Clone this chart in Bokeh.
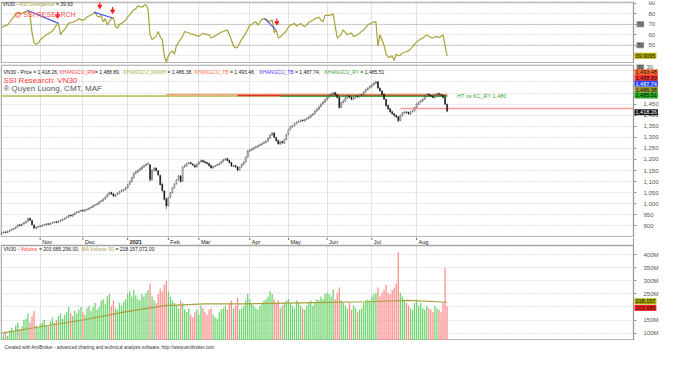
from bokeh.plotting import figure
from bokeh.models import (Range1d, LinearAxis, FixedTicker, Label, Grid,
                          NumeralTickFormatter, ColumnDataSource)
from bokeh.layouts import column
from bokeh.embed import file_html
from bokeh.resources import INLINE
from bokeh.core.properties import value

FONT = "Liberation Sans"

# ---------------- data ----------------
close = [868, 872, 870, 876, 880, 885, 889, 895, 904, 902,
         908, 915, 920, 933, 925, 905, 890, 893, 897, 900,
         903, 905, 909, 907, 912, 915, 918, 916, 922, 926,
         930, 935, 940, 948, 945, 952, 958, 962, 966, 970,
         968, 972, 976, 980, 985, 992, 995, 1000, 1008, 1014,
         1021, 1030, 1042, 1050, 1044, 1035, 1040, 1048, 1055, 1060,
         1064, 1072, 1086, 1100, 1118, 1137, 1145, 1150, 1158, 1166,
         1172, 1178, 1181, 1108, 1152, 1160, 1150, 1130, 1086, 1060,
         1020, 990, 1028, 1050, 1072, 1090, 1108, 1125, 1100, 1166,
         1172, 1181, 1185, 1181, 1175, 1166, 1178, 1188, 1195, 1190,
         1185, 1181, 1172, 1162, 1168, 1172, 1178, 1181, 1190, 1198,
         1203, 1195, 1185, 1170, 1172, 1166, 1152, 1165, 1178, 1188,
         1210, 1239, 1242, 1248, 1253, 1258, 1262, 1268, 1272, 1278,
         1283, 1295, 1310, 1319, 1300, 1285, 1271, 1280, 1275, 1290,
         1312, 1335, 1348, 1352, 1363, 1368, 1372, 1377, 1375, 1380,
         1385, 1392, 1400, 1406, 1418, 1428, 1438, 1450, 1460, 1470,
         1479, 1490, 1495, 1501, 1492, 1480, 1435, 1457, 1465, 1478,
         1486, 1480, 1472, 1478, 1486, 1483, 1490, 1494, 1505, 1516,
         1522, 1530, 1537, 1545, 1550, 1523, 1510, 1494, 1472, 1443,
         1428, 1415, 1406, 1398, 1392, 1375, 1399, 1410, 1414, 1412,
         1406, 1415, 1421, 1435, 1450, 1458, 1465, 1472, 1485, 1494,
         1490, 1486, 1480, 1492, 1497, 1494, 1491, 1480, 1450, 1418.26]
open_ = [864, 868, 873, 870, 876, 881, 884, 890, 896, 905,
         901, 909, 914, 921, 934, 924, 904, 889, 894, 896,
         899, 904, 904, 910, 906, 913, 914, 919, 915, 921,
         925, 930, 936, 940, 949, 944, 951, 959, 961, 967,
         971, 967, 973, 975, 981, 984, 993, 996, 999, 1009,
         1013, 1022, 1031, 1041, 1051, 1045, 1034, 1041, 1047, 1056,
         1059, 1065, 1073, 1088, 1101, 1119, 1138, 1144, 1151, 1157,
         1167, 1173, 1179, 1176, 1110, 1151, 1161, 1149, 1128, 1088,
         1058, 1022, 992, 1030, 1051, 1073, 1091, 1109, 1126, 1102,
         1167, 1173, 1182, 1186, 1180, 1174, 1167, 1179, 1189, 1196,
         1191, 1186, 1182, 1173, 1163, 1169, 1173, 1177, 1182, 1191,
         1199, 1204, 1196, 1186, 1169, 1173, 1167, 1153, 1166, 1177,
         1189, 1211, 1238, 1243, 1247, 1254, 1257, 1263, 1267, 1273,
         1277, 1284, 1296, 1311, 1320, 1299, 1286, 1270, 1281, 1274,
         1291, 1313, 1336, 1347, 1353, 1362, 1369, 1371, 1378, 1374,
         1381, 1386, 1391, 1401, 1407, 1419, 1427, 1439, 1451, 1459,
         1471, 1480, 1491, 1494, 1502, 1493, 1481, 1436, 1458, 1464,
         1477, 1487, 1481, 1471, 1479, 1487, 1482, 1491, 1495, 1506,
         1515, 1523, 1529, 1538, 1544, 1551, 1522, 1509, 1495, 1471,
         1444, 1429, 1416, 1407, 1399, 1393, 1376, 1398, 1409, 1415,
         1413, 1405, 1416, 1420, 1436, 1449, 1459, 1464, 1473, 1484,
         1495, 1489, 1487, 1479, 1491, 1498, 1493, 1490, 1481, 1449]
high = [871, 875, 876, 879, 883, 888, 892, 898, 907, 908,
        911, 918, 924, 938, 937, 927, 908, 897, 900, 903,
        906, 908, 912, 912, 915, 918, 921, 921, 925, 929,
        933, 938, 944, 951, 952, 955, 961, 966, 969, 973,
        975, 975, 979, 984, 988, 995, 999, 1004, 1011, 1017,
        1025, 1034, 1046, 1054, 1055, 1048, 1044, 1052, 1059, 1064,
        1068, 1076, 1090, 1105, 1122, 1141, 1150, 1156, 1163, 1171,
        1177, 1183, 1188, 1180, 1156, 1166, 1165, 1152, 1132, 1095,
        1062, 1030, 1032, 1054, 1076, 1094, 1112, 1130, 1128, 1170,
        1178, 1186, 1190, 1190, 1184, 1178, 1182, 1192, 1199, 1200,
        1194, 1190, 1185, 1176, 1171, 1175, 1181, 1185, 1194, 1202,
        1208, 1208, 1199, 1189, 1176, 1177, 1170, 1168, 1181, 1192,
        1214, 1243, 1247, 1252, 1257, 1262, 1266, 1272, 1276, 1282,
        1287, 1299, 1314, 1325, 1323, 1303, 1289, 1284, 1284, 1294,
        1316, 1339, 1352, 1357, 1367, 1372, 1376, 1381, 1382, 1384,
        1389, 1396, 1404, 1410, 1422, 1432, 1442, 1454, 1464, 1474,
        1483, 1494, 1500, 1506, 1505, 1496, 1484, 1461, 1469, 1482,
        1490, 1491, 1484, 1482, 1490, 1490, 1494, 1498, 1509, 1520,
        1526, 1534, 1541, 1550, 1556, 1555, 1526, 1513, 1498, 1475,
        1448, 1433, 1420, 1410, 1403, 1396, 1402, 1414, 1418, 1419,
        1416, 1419, 1425, 1439, 1454, 1462, 1469, 1476, 1489, 1498,
        1499, 1493, 1490, 1496, 1501, 1501, 1497, 1494, 1484, 1452]
low = [862, 865, 867, 868, 873, 878, 882, 887, 893, 899,
       898, 906, 911, 918, 922, 902, 885, 886, 890, 894,
       896, 900, 901, 904, 903, 910, 911, 912, 913, 918,
       922, 927, 933, 937, 941, 941, 948, 956, 958, 963,
       964, 964, 969, 972, 978, 981, 989, 992, 996, 1005,
       1010, 1018, 1028, 1038, 1040, 1030, 1030, 1037, 1043, 1052,
       1055, 1061, 1070, 1084, 1097, 1114, 1132, 1139, 1146, 1152,
       1162, 1168, 1174, 1100, 1104, 1146, 1145, 1126, 1082, 1052,
       1015, 975, 988, 1025, 1046, 1068, 1086, 1104, 1095, 1098,
       1162, 1168, 1178, 1177, 1171, 1161, 1163, 1175, 1185, 1186,
       1181, 1177, 1168, 1158, 1159, 1165, 1170, 1174, 1179, 1187,
       1195, 1192, 1182, 1166, 1165, 1162, 1146, 1149, 1162, 1174,
       1185, 1207, 1233, 1239, 1243, 1250, 1253, 1259, 1263, 1269,
       1273, 1280, 1292, 1306, 1296, 1281, 1265, 1266, 1271, 1270,
       1287, 1309, 1332, 1343, 1349, 1358, 1365, 1367, 1371, 1370,
       1377, 1382, 1387, 1397, 1403, 1415, 1423, 1435, 1447, 1455,
       1466, 1476, 1487, 1490, 1488, 1476, 1428, 1432, 1453, 1460,
       1473, 1476, 1467, 1468, 1475, 1479, 1479, 1487, 1491, 1502,
       1511, 1519, 1525, 1534, 1540, 1518, 1505, 1490, 1468, 1438,
       1423, 1410, 1401, 1393, 1386, 1368, 1372, 1394, 1405, 1407,
       1401, 1402, 1412, 1417, 1432, 1445, 1455, 1460, 1469, 1480,
       1486, 1482, 1476, 1476, 1488, 1490, 1487, 1476, 1446, 1413]
rsi = [67, 68, 69, 69.3, 72, 75, 77, 80, 81.7, 80.5,
       80.1, 81.5, 82.5, 83.2, 78.6, 62, 52.4, 51, 52, 55,
       57, 58.5, 60, 61, 62.5, 63.5, 66, 69.3, 70.9, 60,
       63, 65, 68, 70.9, 71.5, 72, 73, 74, 75.5, 74.5,
       74, 75, 77, 78, 79, 80.1, 81.7, 78, 77, 78.6,
       72.4, 75.5, 69.3, 73, 75.5, 76.4, 68, 66.2, 70, 71,
       72.5, 74, 77, 79, 81.5, 84, 84.8, 87.8, 87, 86.3,
       88, 89, 84.8, 60, 55.4, 57, 58.5, 63.2, 58, 55.4,
       40, 33.8, 40, 43, 44.6, 41.6, 50, 52.4, 56, 58.5,
       63.2, 62.5, 62, 61, 60.5, 60, 59, 58.5, 60, 61.6,
       60.5, 60.5, 60, 57, 58, 59, 60, 61.5, 62.5, 63.2,
       64, 64.7, 60, 55, 49.3, 47.7, 47.7, 52, 55.4, 58.5,
       61.6, 65, 69.3, 70, 71.5, 72.4, 69.3, 72, 75, 75.5,
       75, 73.5, 72.4, 74.6, 62, 64.7, 57, 58, 60, 61.6,
       64, 67.5, 69.3, 70, 70.9, 68.4, 69.5, 70.9, 69, 67.8,
       69.5, 72, 73, 74, 75.5, 76, 77, 74, 72.4, 78.6,
       78.6, 78.6, 79, 80.1, 68, 57, 58.5, 61, 64.7, 62,
       60, 61, 61.6, 58.5, 59, 60, 61.5, 63.5, 64.7, 67,
       69.3, 70.5, 71.5, 72.4, 72.4, 49.3, 60, 55, 50, 41.6,
       39, 38.5, 40, 35.4, 41.6, 40, 40.5, 42.5, 43.1, 44,
       44.6, 46.5, 48.5, 51, 53, 54.5, 56, 57, 58.5, 60,
       58.5, 57.5, 57, 58, 58.5, 57.5, 58.5, 60, 49.3, 39.93]
volume_m = [85, 95, 105, 90, 110, 120, 105, 130, 140, 115,
            125, 150, 155, 175, 140, 165, 185, 130, 120, 135,
            140, 150, 130, 125, 145, 160, 140, 150, 165, 175,
            155, 170, 180, 200, 175, 165, 185, 175, 190, 200,
            180, 170, 195, 205, 185, 200, 215, 190, 200, 225,
            230, 210, 240, 250, 205, 225, 195, 190, 215, 205,
            220, 230, 250, 260, 240, 265, 245, 230, 225, 250,
            240, 255, 265, 290, 240, 225, 215, 250, 270, 260,
            285, 300, 260, 240, 225, 215, 205, 195, 225, 215,
            190, 180, 195, 170, 160, 180, 190, 170, 205, 195,
            180, 170, 190, 195, 170, 160, 155, 180, 190, 195,
            205, 190, 215, 225, 195, 205, 235, 190, 195, 205,
            225, 250, 230, 215, 205, 195, 190, 205, 215, 225,
            230, 240, 260, 250, 230, 215, 225, 195, 205, 215,
            225, 230, 215, 205, 195, 225, 215, 205, 195, 190,
            205, 215, 225, 205, 215, 230, 225, 240, 230, 250,
            255, 250, 240, 265, 230, 255, 275, 225, 215, 205,
            195, 215, 190, 205, 195, 180, 190, 195, 215, 225,
            230, 225, 240, 250, 255, 275, 240, 255, 265, 285,
            255, 250, 265, 275, 290, 410, 255, 240, 225, 215,
            205, 195, 190, 215, 225, 205, 215, 195, 190, 205,
            195, 190, 180, 205, 195, 190, 180, 215, 350, 203.685296]
ma_idx = [0, 20, 40, 60, 80, 100, 120, 140, 160, 180, 200, 219]
ma_vol_m = [100, 125, 150, 180, 205, 212, 212, 215, 218, 220, 225, 218.157072]

month_idx = [19, 40, 62, 82, 97, 122, 141, 160, 182, 204]
month_labels = ["Nov", "Dec", "2021", "Feb", "Mar", "Apr", "May", "Jun", "Jul", "Aug"]

kc_names = ["KHANGCU_RM", "KHANGCU_MANH", "KHANGCU_TB", "KHANGCU_TB", "KHANGCU_RY"]
kc_values = [1488.89, 1486.38, 1493.48, 1487.74, 1485.51]
kc_start = [116, 0, 81, 150, 137]
ht_value = 1430
ht_start = 196
ht_label_value = 1480

rsi_levels = [70, 50, 30]
div_x0 = [12.6, 45.4, 129.3]
div_y0 = [83.5, 81.7, 75.5]
div_x1 = [28.0, 54.6, 134.8]
div_y1 = [70.9, 76.1, 65.0]
arrow_idx = [27.5, 48.3, 54.6, 135.3]
arrow_rsi = [78.0, 87.2, 82.6, 71.5]

rsi_ticks = [40, 50, 60, 70, 80, 90]
price_ticks = list(range(900, 1650, 50))
vol_ticks = list(range(100, 450, 50))

# ---------------- styles / layout ----------------
kc_line_colors = ["#e0302a", "#b4b850", "#f7a070", "#3050ff", "#3faa3f"]
kc_text_colors = ["#ff4040", "#a8b048", "#ff7040", "#4040ff", "#40a040"]
kc_tag_colors = ["#ff3333", "#9b9b30", "#ff6a33", "#2244ff", "#22aa22"]
kc_draw_order = [1, 2, 3, 0, 4]
OLIVE = "#a8a238"
BORDER = "#a4a4a4"

N = len(close)
idx = list(range(N))


def rsi_at(py):
    return 90 - (py - 6) / 1.08


def price_at(py):
    return 1450 - (py - 110) / 0.2291


def vol_at(py):
    return 400 - (py - 264) / 0.28


FW = 664                 # whole width incl. right label zone
PLOT_PX = 633            # width of the chart box
X0 = -0.5
PLOT_END = 310.6
XPP = (PLOT_END - X0) / PLOT_PX          # x units per pixel
XR = Range1d(X0, X0 + XPP * FW)


def base_fig(fh, yr, top=1, bottom=0):
    p = figure(frame_width=FW, frame_height=fh, x_range=XR, y_range=yr,
               x_axis_location=None, y_axis_location=None,
               toolbar_location=None, output_backend="svg",
               min_border_left=0, min_border_right=0,
               min_border_top=top, min_border_bottom=bottom)
    p.outline_line_color = None
    p.xgrid.visible = False
    p.ygrid.visible = False
    p.background_fill_color = "white"
    p.border_fill_color = "white"
    return p


def add_grids(p, yticks, lo, hi):
    p.add_layout(Grid(dimension=0, ticker=FixedTicker(ticks=month_idx),
                      grid_line_color="#e2e2e2", grid_line_width=1))
    p.add_layout(Grid(dimension=1, ticker=FixedTicker(ticks=yticks),
                      grid_line_color="#c8c8c8", grid_line_dash="1 2",
                      grid_line_width=1))
    # white cover for the label zone right of the chart box
    p.quad(left=[PLOT_END], right=[XR.end], bottom=[lo], top=[hi],
           fill_color="white", line_color=None)


def add_box(p, bottom, top, ypp):
    p.quad(left=[X0 + 0.7 * XPP], right=[PLOT_END], bottom=[bottom + 0.7 * ypp],
           top=[top - 0.7 * ypp], fill_alpha=0, line_color=BORDER, line_width=1.3)


def right_axis(p, ticks, overrides, standoff, fmt=None):
    ax = LinearAxis(ticker=FixedTicker(ticks=ticks), fixed_location=PLOT_END)
    if fmt is not None:
        ax.formatter = fmt
    ax.major_label_overrides = overrides
    ax.axis_line_color = "#9a9a9a"
    ax.major_tick_line_color = "#9a9a9a"
    ax.major_tick_out = 3
    ax.major_tick_in = 0
    ax.minor_tick_line_color = None
    ax.major_label_text_font = FONT
    ax.major_label_text_font_size = "6px"
    ax.major_label_text_color = "#555555"
    ax.major_label_standoff = standoff
    p.add_layout(ax, "right")


def text_label(p, text, xpx, yval, color, size="5px", style="normal"):
    p.add_layout(Label(x=X0, y=yval, x_offset=xpx - 3, text=text,
                       text_font=FONT, text_font_size=size, text_color=color,
                       text_font_style=style, text_baseline="middle"))


def tag(p, text, yval, bg, fg="#111111", xoff=1, size="5.5px"):
    p.add_layout(Label(x=PLOT_END, y=yval, x_offset=xoff, text=text,
                       text_font=FONT, text_font_size=size, text_color=fg,
                       text_baseline="middle", background_fill_color=bg,
                       padding=1))


def level_box(p, text, yval):
    p.add_layout(Label(x=PLOT_END, y=yval, x_offset=3, text=text,
                       text_font=FONT, text_font_size="5px",
                       text_color="#333333", text_baseline="middle",
                       background_fill_color="#8a8a8a", padding=1))

# ---------------- RSI panel ----------------
RSI_H = 62
rsi_lo, rsi_hi = rsi_at(68), rsi_at(4)
rsi_ypp = (rsi_hi - rsi_lo) / RSI_H
p_rsi = base_fig(RSI_H, Range1d(rsi_lo, rsi_hi), top=1, bottom=0)
add_grids(p_rsi, rsi_ticks, rsi_lo, rsi_hi)
vis_levels = [l for l in rsi_levels if rsi_lo < l < rsi_hi]
p_rsi.segment(x0=[X0] * len(vis_levels), y0=vis_levels,
              x1=[PLOT_END] * len(vis_levels), y1=vis_levels,
              line_color="#a0a0a0", line_dash="1 1", line_width=1)
add_box(p_rsi, rsi_lo, rsi_hi, rsi_ypp)
p_rsi.line(idx, rsi, line_color=OLIVE, line_width=1.2)
p_rsi.segment(x0=div_x0, y0=div_y0, x1=div_x1, y1=div_y1,
              line_color="#4a55e8", line_width=1.2)
p_rsi.segment(x0=arrow_idx, y0=[a + 4 for a in arrow_rsi], x1=arrow_idx,
              y1=arrow_rsi, line_color="#ff2020", line_width=1.2)
p_rsi.scatter(arrow_idx, arrow_rsi, marker="inverted_triangle", size=4,
              fill_color="#ff2020", line_color="#ff2020")
right_axis(p_rsi, rsi_ticks, {40: ""}, 12)
ry = rsi_at(6.5)
text_label(p_rsi, "VN30 -", 5, ry, "#222222")
text_label(p_rsi, "RSI Divergence", 22, ry, OLIVE)
text_label(p_rsi, "= %.2f" % rsi[-1], 58.5, ry, "#222222")
text_label(p_rsi, "@ SSI RESEARCH", 17, rsi_at(17.5), "#ff4d4d", size="7px")
for lvl in vis_levels:
    level_box(p_rsi, str(lvl), lvl)
tag(p_rsi, "%.4f" % 39.9095, rsi[-1], "#b5b000")

# ---------------- Price panel ----------------
PX_H = 173
px_lo, px_hi = price_at(248), price_at(69)
px_ypp = (px_hi - px_lo) / PX_H
p_px = base_fig(PX_H, Range1d(px_lo, px_hi), top=1, bottom=0)
add_grids(p_px, price_ticks, px_lo, px_hi)
add_box(p_px, px_lo, px_hi, px_ypp)
last = N - 1
for k in kc_draw_order:
    p_px.line([kc_start[k], last], [kc_values[k], kc_values[k]],
              line_color=kc_line_colors[k], line_width=1.6)
p_px.line([ht_start, PLOT_END], [ht_value, ht_value], line_color="#ff9a9a",
          line_width=1.6)

up = [i for i in idx if close[i] >= open_[i]]
dn = [i for i in idx if close[i] < open_[i]]
p_px.segment(x0=idx, y0=low, x1=idx, y1=high, line_color="#333333",
             line_width=0.5)
p_px.vbar(x=up, top=[close[i] for i in up], bottom=[open_[i] for i in up],
          width=0.5, fill_color="white", line_color="#333333", line_width=0.45)
p_px.vbar(x=dn, top=[open_[i] for i in dn], bottom=[close[i] for i in dn],
          width=0.5, fill_color="#111111", line_color="#111111", line_width=0.45)

ov = {t: "" for t in price_ticks if t >= 1500}
right_axis(p_px, price_ticks, ov, 7, fmt=NumeralTickFormatter(format="0,0"))

ty = price_at(77)
text_label(p_px, "VN30 - Price = %s," % format(close[-1], ",.2f"), 6, ty, "#222222")
title_x = [62, 126, 197, 262, 327]
val_x = [97.5, 170, 232.5, 297.5, 363]
for k in range(5):
    text_label(p_px, kc_names[k], title_x[k], ty, kc_text_colors[k])
    sep = "," if k < 4 else ""
    text_label(p_px, "= %s%s" % (format(kc_values[k], ",.2f"), sep), val_x[k], ty, "#222222")
text_label(p_px, "SSI Research: VN30", 6, price_at(86), "#ff3b3b", size="8px")
text_label(p_px, "\u00ae Quyen Luong, CMT, MAF", 6, price_at(93.5), "#555555", size="8px")
p_px.add_layout(Label(x=last, y=price_at(101.5), x_offset=10,
                      text="HT vs KC_RY  %s" % format(ht_label_value, ",d"),
                      text_font=FONT, text_font_size="5.5px",
                      text_color="#33aa33", text_baseline="middle"))
# RSI level 30 box and tick spill over the top of the price panel
for lvl in [l for l in rsi_levels if l not in vis_levels]:
    level_box(p_px, str(lvl), price_at(71.5))
    p_px.add_layout(Label(x=PLOT_END, y=price_at(71.5), x_offset=13, text=str(lvl),
                          text_font=FONT, text_font_size="6px", text_color="#555555",
                          text_baseline="middle"))

order = sorted(range(5), key=lambda k: -kc_values[k])
for n, k in enumerate(order):
    tag(p_px, format(kc_values[k], ",.2f"), price_at(77 + 6 * n),
        kc_tag_colors[k], fg="#ffffff" if kc_tag_colors[k] == "#2244ff" else "#111111")
tag(p_px, format(close[-1], ",.2f"), price_at(118.5), "#111111", fg="#ffffff")

# ---------------- Volume panel (with date strip on top) ----------------
BOX_H = 95
STRIP_H = 8
v_top, v_bot = vol_at(254), vol_at(356)
per_px = (v_top - v_bot) / BOX_H
strip_top = v_top + STRIP_H * per_px
p_v = base_fig(BOX_H + STRIP_H, Range1d(v_bot, strip_top), top=0, bottom=0)
add_grids(p_v, vol_ticks, v_bot, strip_top)
p_v.quad(left=[X0], right=[XR.end], bottom=[v_top], top=[strip_top],
         fill_color="white", line_color=None)
add_box(p_v, v_bot, v_top + 0.7 * per_px, per_px)
vcol = ["#6cd46c" if close[i] >= open_[i] else "#ff8c8c" for i in idx]
p_v.vbar(x=idx, top=volume_m, bottom=0, width=0.62, fill_color=vcol,
         line_color=None)
p_v.line(ma_idx, ma_vol_m, line_color="#a8a040", line_width=1.2)
right_axis(p_v, vol_ticks, {t: ("" if t == 200 else "%dM" % t) for t in vol_ticks}, 7)

dsrc = ColumnDataSource(dict(x=month_idx, text=month_labels,
                             style=["bold" if t.isdigit() else "normal" for t in month_labels]))
p_v.segment(x0="x", y0=strip_top, x1="x", y1=strip_top - 2.5 * per_px, source=dsrc,
            line_color="#444444", line_width=0.8)
p_v.text(x="x", y=v_top + STRIP_H * per_px / 2, text="text", source=dsrc,
         x_offset=2, text_font=value(FONT), text_font_size="5.5px",
         text_color="#222222", text_baseline="middle", text_align="left",
         text_font_style="style")

vy = vol_at(258)
text_label(p_v, "VN30 -", 6, vy, "#222222")
text_label(p_v, "Volume", 23, vy, "#ff3030")
text_label(p_v, "= %s," % format(volume_m[-1] * 1e6, ",.2f"), 41.5, vy, "#222222")
text_label(p_v, "MA Volume 50", 84, vy, "#a8a040")
text_label(p_v, "= %s" % format(ma_vol_m[-1] * 1e6, ",.2f"), 118, vy, "#222222")
tag(p_v, format(ma_vol_m[-1] * 1e3, ",.0f"), vol_at(314), "#a8a800")
tag(p_v, format(volume_m[-1] * 1e3, ",.0f"), vol_at(321), "#ff2020")

# ---------------- footer ----------------
p_f = figure(frame_width=FW, frame_height=10, x_range=Range1d(0, 1),
             y_range=Range1d(0, 1), x_axis_location=None, y_axis_location=None,
             toolbar_location=None, output_backend="svg", min_border=0)
p_f.outline_line_color = None
p_f.xgrid.visible = False
p_f.ygrid.visible = False
p_f.add_layout(Label(x=0, y=0.5, x_offset=4,
                     text="Created with AmiBroker - advanced charting and technical analysis software. http://www.amibroker.com",
                     text_font=FONT, text_font_size="4.6px", text_color="#333333",
                     text_baseline="middle"))

layout = column(p_rsi, p_px, p_v, p_f, spacing=0)
open("out.html", "w").write(file_html(layout, INLINE))
